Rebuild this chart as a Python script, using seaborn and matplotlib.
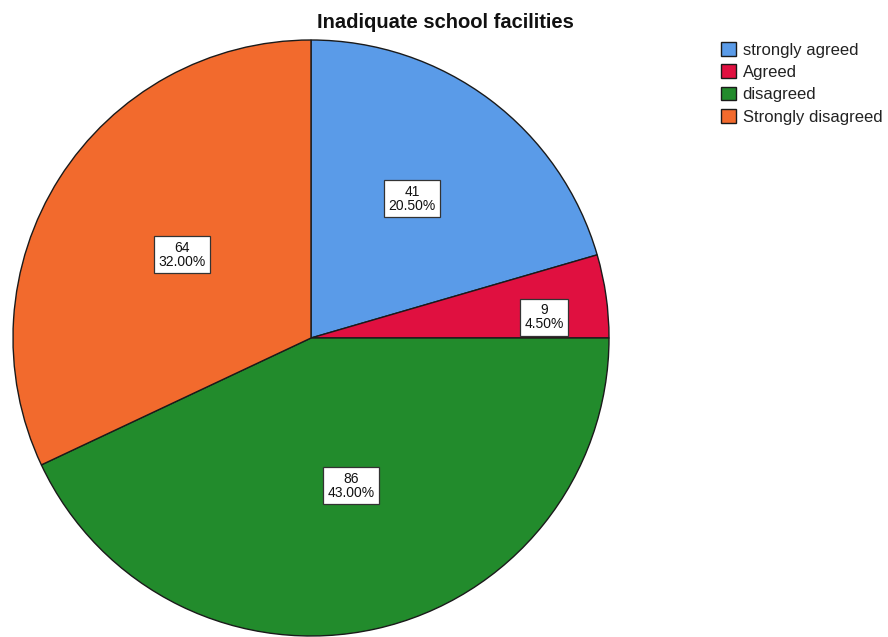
import numpy as np
import matplotlib
matplotlib.use("Agg")
import matplotlib.pyplot as plt
import seaborn as sns

# Survey responses: "Inadiquate school facilities"
categories = ["strongly agreed", "Agreed", "disagreed", "Strongly disagreed"]
counts = [41, 9, 86, 64]
percents = [20.50, 4.50, 43.00, 32.00]

sns.set_theme(style="white")
plt.rcParams["font.family"] = ["Liberation Sans", "DejaVu Sans"]

palette = sns.color_palette(["#5a9be8", "#e01040", "#228b2c", "#f26a2d"])

W, H = 888, 637
fig = plt.figure(figsize=(W / 100, H / 100), dpi=100)
fig.patch.set_facecolor("white")

# pie placed with its centre at (311, 338) px, radius ~298 px
cx, cy, r = 311, 338, 298
ax = fig.add_axes([(cx - r) / W, (H - cy - r) / H, 2 * r / W, 2 * r / H])

wedges, _ = ax.pie(
    counts,
    colors=palette,
    startangle=90,
    counterclock=False,
    radius=1.0,
    wedgeprops=dict(edgecolor="#1a1a1a", linewidth=1.0),
)
ax.set_xlim(-1, 1)
ax.set_ylim(-1, 1)
ax.set_aspect("equal")
ax.axis("off")

# value labels inside each wedge
label_radius = [0.577, 0.785, 0.514, 0.515]
label_shift = [0.9, -3.0, 2.5, -0.4]
for w, c, p, lr, sh in zip(wedges, counts, percents, label_radius, label_shift):
    ang = np.deg2rad((w.theta1 + w.theta2) / 2 + sh)
    ax.text(
        lr * np.cos(ang), lr * np.sin(ang),
        f"{c}\n{p:.2f}%",
        ha="center", va="center", fontsize=10, linespacing=1.05,
        color="#111111",
        bbox=dict(boxstyle="square,pad=0.3", facecolor="white",
                  edgecolor="#333333", linewidth=0.9),
    )

fig.text(445 / W, 1 - 23 / H, "Inadiquate school facilities",
         ha="center", va="center", fontsize=14.5, fontweight="bold",
         color="#111111")

leg = fig.legend(
    wedges, categories,
    loc="upper left", bbox_to_anchor=(721 / W, 1 - 42 / H),
    frameon=False, fontsize=12, handlelength=0.9, handleheight=0.9,
    handletextpad=0.4, labelspacing=0.4, borderaxespad=0, borderpad=0,
)
for t in leg.get_texts():
    t.set_color("#222222")

fig.savefig("out.png", dpi=100, facecolor="white")
